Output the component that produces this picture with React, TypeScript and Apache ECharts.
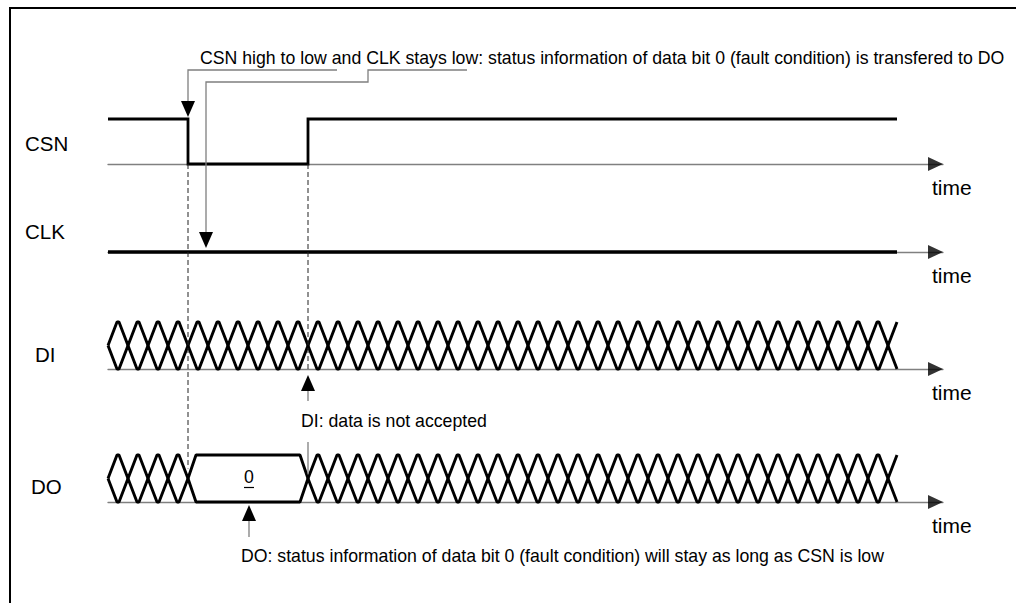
import React, { useEffect, useRef } from 'react';
import * as echarts from 'echarts';

const FONT = '"Liberation Sans", Arial, Helvetica, sans-serif';

// ---- data (time in bit-cell units) ----
const SIGNALS = ['CSN', 'CLK', 'DI', 'DO'];
const LABEL_POS: [number, number][] = [[25, 143], [25, 231], [35, 354], [31, 486]];
const T_AXIS_END = 41.75;
const T_CSN_FALL = 4;
const T_CSN_RISE = 10;
const T_CLK_NOTE = 4.9;
const T_DO_NOTE = 7.05;

const CSN_WAVE: [number, number][] = [[0, 1], [4, 1], [4, 0], [10, 0], [10, 1], [39.45, 1]];
const CLK_WAVE: [number, number][] = [[0, 0], [39.45, 0]];
const DI_UNDEFINED: [number, number][] = [[0, 39.45]];
const DI_VALID: { from: number; to: number; label: string }[] = [];
const DO_UNDEFINED: [number, number][] = [[0, 4], [10, 39.45]];
const DO_VALID = [{ from: 4, to: 10, label: '0' }];

const NOTE_TOP = 'CSN high to low and CLK stays low: status information of data bit 0 (fault condition) is transfered to DO';
const NOTE_DI = 'DI: data is not accepted';
const NOTE_DO = 'DO: status information of data bit 0 (fault condition) will stay as long as CSN is low';

// ---- layout ----
const LEFT = 108;
const WIDTH = 835;
const GRID_TOPS = [119, 207, 322, 455];
const GRID_HEIGHTS = [45, 45, 47, 47];

function busLines(undef: [number, number][], valid: { from: number; to: number }[]) {
  type Seg = { a: number; b: number; v: boolean };
  const segs: Seg[] = [
    ...undef.map(([a, b]) => ({ a, b, v: false })),
    ...valid.map((s) => ({ a: s.from, b: s.to, v: true })),
  ].sort((p, q) => p.a - q.a);
  const upper: [number, number][] = [];
  const lower: [number, number][] = [];
  const push = (t: number, u: number, l: number) => {
    upper.push([t, u]);
    lower.push([t, l]);
  };
  for (const s of segs) {
    if (s.v) {
      push(s.a, 0.5, 0.5);
      push(s.a + 0.4, 1, 0);
      push(s.b - 0.4, 1, 0);
      push(s.b, 0.5, 0.5);
    } else {
      for (let k = s.a; k < s.b - 1e-9; k += 1) {
        const e = Math.min(k + 1, s.b);
        push(k, 0.5, 0.5);
        if (e - k > 0.99) {
          push(k + 0.45, 1, 0);
          push(k + 0.55, 1, 0);
          push(e, 0.5, 0.5);
        } else {
          push(e, 1, 0);
        }
      }
    }
  }
  return { upper, lower };
}

export default function App() {
  const ref = useRef<HTMLDivElement>(null);
  useEffect(() => {
    const el = ref.current!;
    const chart = echarts.init(el, undefined, { renderer: 'svg' });

    const grid = GRID_TOPS.map((top, i) => ({ left: LEFT, width: WIDTH, top, height: GRID_HEIGHTS[i] }));
    const xAxis = SIGNALS.map((_, i) => ({
      type: 'value',
      gridIndex: i,
      min: 0,
      max: T_AXIS_END,
      axisLine: { show: true, onZero: false, lineStyle: { color: '#808080', width: 1.3 } },
      axisTick: { show: false },
      axisLabel: { show: false },
      splitLine: { show: false },
    }));
    const yAxis = SIGNALS.map((_, i) => ({
      type: 'value',
      gridIndex: i,
      min: 0,
      max: 1,
      show: false,
    }));

    const lineCommon = { type: 'line', symbol: 'none', silent: true, clip: false, z: 3 };
    const di = busLines(DI_UNDEFINED, DI_VALID);
    const dout = busLines(DO_UNDEFINED, DO_VALID);
    const busStyle = { color: '#000', width: 2.9 };
    const series: any[] = [
      { ...lineCommon, xAxisIndex: 0, yAxisIndex: 0, data: CSN_WAVE, lineStyle: { color: '#000', width: 2.8, join: 'miter' } },
      { ...lineCommon, xAxisIndex: 1, yAxisIndex: 1, data: CLK_WAVE, lineStyle: { color: '#000', width: 3.4 } },
      { ...lineCommon, xAxisIndex: 2, yAxisIndex: 2, data: di.upper, lineStyle: busStyle },
      { ...lineCommon, xAxisIndex: 2, yAxisIndex: 2, data: di.lower, lineStyle: busStyle },
      { ...lineCommon, xAxisIndex: 3, yAxisIndex: 3, data: dout.upper, lineStyle: busStyle },
      { ...lineCommon, xAxisIndex: 3, yAxisIndex: 3, data: dout.lower, lineStyle: busStyle },
      ...SIGNALS.map((_, i) => ({
        type: 'scatter',
        xAxisIndex: i,
        yAxisIndex: i,
        data: [[T_AXIS_END - 0.375, 0]],
        symbol: 'triangle',
        symbolSize: [14, 15],
        symbolRotate: -90,
        itemStyle: { color: '#000' },
        silent: true,
        clip: false,
        z: 4,
      })),
    ];

    chart.setOption({
      animation: false,
      backgroundColor: '#fff',
      grid,
      xAxis,
      yAxis,
      series,
    });

    const px = (t: number) => chart.convertToPixel({ xAxisIndex: 0 }, t) as unknown as number;
    const py = (i: number, v: number) => chart.convertToPixel({ yAxisIndex: i }, v) as unknown as number;

    const gray = '#7f7f7f';
    const x4 = px(T_CSN_FALL);
    const x10 = px(T_CSN_RISE);
    const xClk = px(T_CLK_NOTE);
    const xDo = px(T_DO_NOTE);
    const csnHigh = py(0, 1);
    const csnLow = py(0, 0);
    const clkY = py(1, 0);
    const diBase = py(2, 0);
    const doMid = py(3, 0.5);
    const doBase = py(3, 0);
    const xEnd = px(T_AXIS_END);

    const head = (x: number, tip: number, down: boolean) => ({
      type: 'polygon',
      silent: true,
      z: 10,
      shape: { points: [[x, tip], [x - 7, tip + (down ? -16 : 16)], [x + 7, tip + (down ? -16 : 16)]] },
      style: { fill: '#000', stroke: 'none' },
    });
    const pline = (points: number[][], stroke: string, lineWidth: number, dash?: number[]) => ({
      type: 'polyline',
      silent: true,
      z: 9,
      shape: { points },
      style: { stroke, lineWidth, fill: 'none', lineDash: dash },
    });
    const txt = (text: string, x: number, y: number, fontSize: number, align = 'left') => ({
      type: 'text',
      silent: true,
      z: 10,
      x,
      y,
      style: { text, fontSize, fontFamily: FONT, fill: '#000', align, verticalAlign: 'middle' },
    });

    const graphic: any[] = [
      pline([[10, 603], [10, 8], [1016, 8]], '#000', 2),
      pline([[x4, csnLow], [x4, doMid - 10]], '#222', 1, [5, 3]),
      pline([[x10, csnLow], [x10, diBase]], '#222', 1, [5, 3]),
      // top annotation
      txt(NOTE_TOP, 200, 58, 17.7),
      pline([[337, 70], [x4, 70], [x4, csnHigh - 18]], gray, 1.3),
      head(x4, csnHigh - 2, true),
      pline([[467, 70], [368, 70], [368, 82], [xClk, 82], [xClk, clkY - 20]], gray, 1.3),
      head(xClk, clkY - 4, true),
      // DI annotation
      pline([[x10, diBase + 20], [x10, 401]], gray, 1.3),
      head(x10, diBase + 6, false),
      txt(NOTE_DI, 301, 421, 17.7),
      pline([[x10, 442], [x10, doMid - 4]], gray, 1.3),
      // DO annotation
      txt(DO_VALID[0].label, xDo, doMid - 2, 17.7, 'center'),
      pline([[xDo - 5, doMid + 9], [xDo + 5, doMid + 9]], '#000', 1.2),
      pline([[xDo, doBase + 19], [xDo, 537]], gray, 1.3),
      head(xDo, doBase + 3, false),
      txt(NOTE_DO, 241, 556, 17.7),
      ...SIGNALS.map((s, i) => txt(s, LABEL_POS[i][0], LABEL_POS[i][1], 20.5)),
      ...SIGNALS.map((_, i) => txt('time', xEnd - 11, py(i, 0) + 23, 21)),
    ];
    chart.setOption({ graphic });

    return () => chart.dispose();
  }, []);
  return <div ref={ref} style={{ position: 'fixed', left: 0, top: 0, width: 1016, height: 603 }} />;
}
